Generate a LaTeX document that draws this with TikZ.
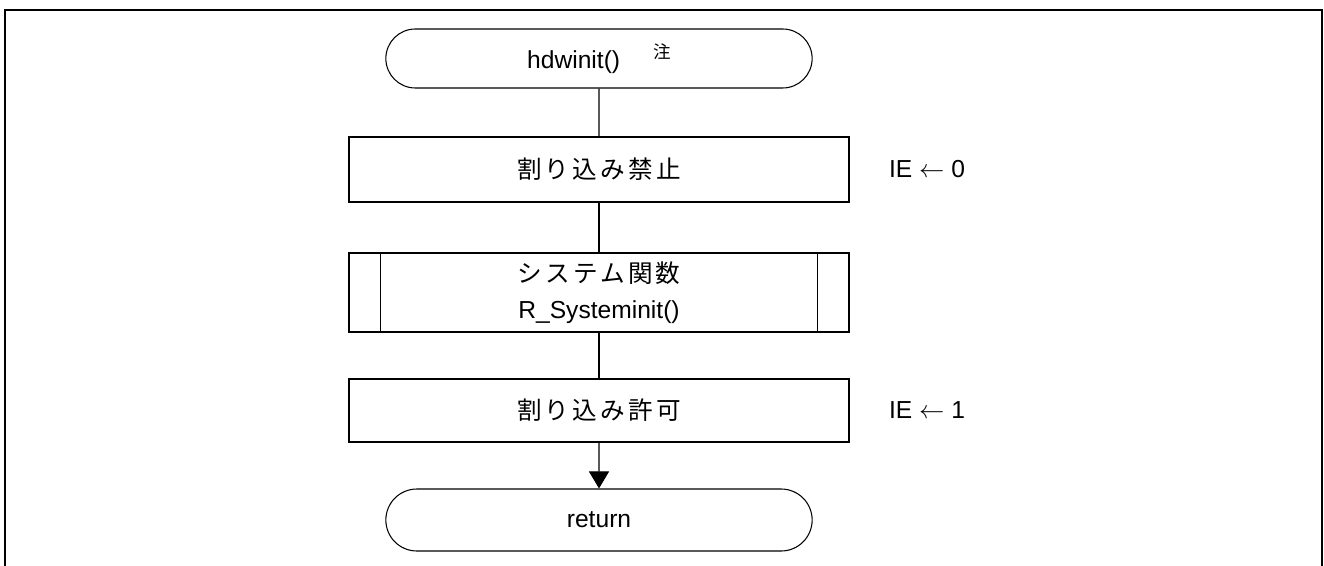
\documentclass[tikz,border=0pt]{standalone}
\usepackage{fontspec}
\setmainfont{Liberation Sans}
\newfontfamily\jp[LetterSpace=13]{Noto Sans CJK JP}
\usetikzlibrary{shapes.misc,arrows.meta}

\begin{document}
\begin{tikzpicture}[font=\fontsize{14}{20.5}\selectfont, line width=0.6pt]

% definitions
\tikzstyle{terminal} = [rounded rectangle, minimum width=8.76cm, minimum height=1.18cm, text centered, draw=black]

\tikzstyle{process} = [rectangle, minimum width=10cm, minimum height=1.3cm, text centered, draw=black]

\tikzstyle{subroutine} = [rectangle, minimum width=10cm, minimum height=1.58cm, text centered, align=center, draw=black]

\tikzstyle{note} = [anchor=west, inner sep=0pt]

\tikzstyle{arrow} = [-{Triangle[width=0.4cm,length=0.34cm]}]

% frame
\useasboundingbox (-11.98,1.17) rectangle (14.5,-10.15);
\draw [line width=1.15pt] (-11.88,-10.4) -- (-11.88,0.97) -- (14.46,0.97) -- (14.46,-10.4);

% the graph
\node (l0) [terminal] at (0,0) {hdwinit()\hspace{0.66cm}\raisebox{0.2cm}{\fontsize{10}{10}\selectfont\jp 注}};

\node (l1) [process, below of=l0, yshift=-1.22cm] {\jp 割り込み禁止};

\node (l2) [subroutine, below of=l1, yshift=-1.46cm] {{\jp システム関数}\\R\_Systeminit()};

\node (l3) [process, minimum height=1.26cm, below of=l2, yshift=-1.36cm] {\jp 割り込み許可};

\node (l4) [terminal, minimum height=1.24cm, below of=l3, yshift=-1.19cm] {return};

% side notes
\node (n1) [note] at ([xshift=0.78cm]l1.east) {IE $\leftarrow$ 0};

\node (n3) [note] at ([xshift=0.78cm]l3.east) {IE $\leftarrow$ 1};

\draw ([xshift=0.64cm]l2.north west) -- ([xshift=0.64cm]l2.south west);
\draw ([xshift=-0.64cm]l2.north east) -- ([xshift=-0.64cm]l2.south east);

\draw (l0) -- (l1);
\draw (l1) -- (l2);
\draw (l2) -- (l3);
\draw [arrow] (l3) -- (l4);

\end{tikzpicture}
\end{document}
